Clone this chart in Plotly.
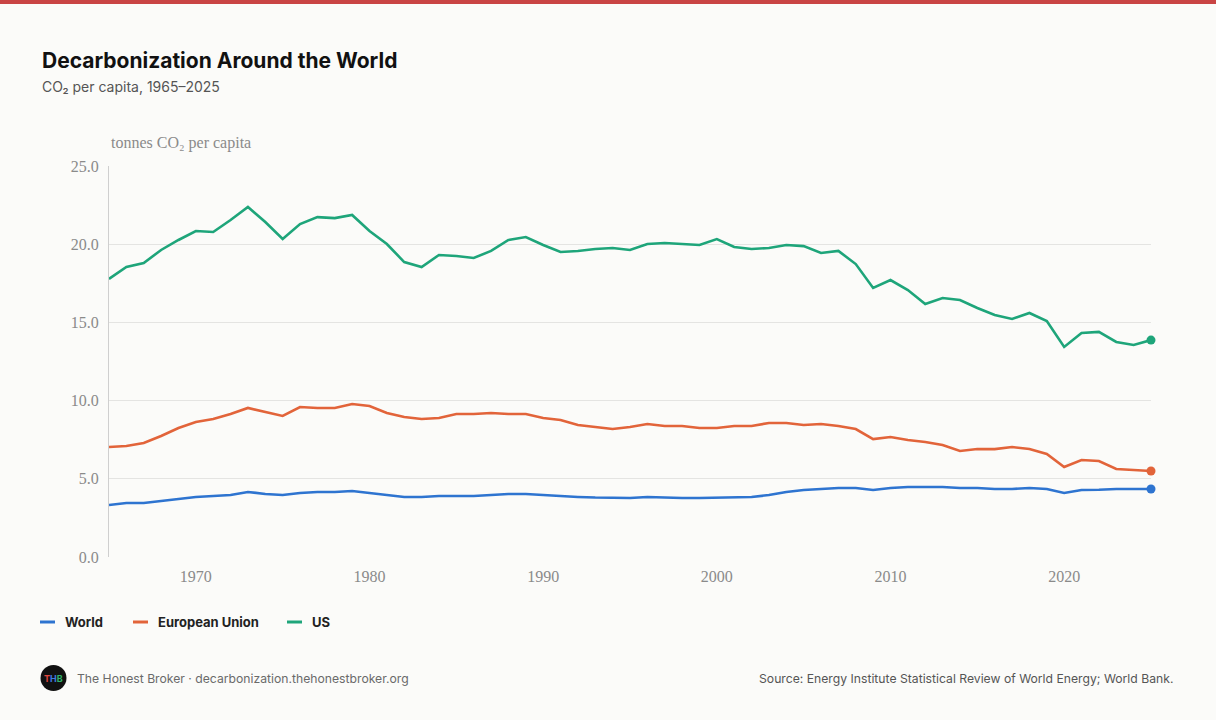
import plotly.graph_objects as go

years = list(range(1965, 2026))

world = [3.32, 3.45, 3.45, 3.58, 3.71, 3.84, 3.90, 3.96, 4.16, 4.03,
         3.96, 4.09, 4.16, 4.16, 4.22, 4.09, 3.96, 3.84, 3.84, 3.90,
         3.90, 3.90, 3.96, 4.03, 4.03, 3.96, 3.90, 3.84, 3.80, 3.77,
         3.77, 3.84, 3.80, 3.77, 3.77, 3.80, 3.80, 3.84, 3.96, 4.16,
         4.28, 4.35, 4.41, 4.41, 4.28, 4.41, 4.48, 4.48, 4.48, 4.41,
         4.41, 4.35, 4.35, 4.41, 4.35, 4.09, 4.28, 4.30, 4.35, 4.35,
         4.35]

eu = [7.03, 7.10, 7.29, 7.74, 8.25, 8.63, 8.82, 9.14, 9.53, 9.27,
      9.02, 9.59, 9.53, 9.53, 9.78, 9.65, 9.21, 8.95, 8.82, 8.89,
      9.14, 9.14, 9.21, 9.14, 9.14, 8.89, 8.76, 8.44, 8.31, 8.18,
      8.31, 8.50, 8.38, 8.38, 8.25, 8.25, 8.38, 8.38, 8.57, 8.57,
      8.44, 8.50, 8.38, 8.18, 7.54, 7.67, 7.48, 7.35, 7.16, 6.78,
      6.90, 6.90, 7.03, 6.90, 6.59, 5.75, 6.20, 6.14, 5.63, 5.56,
      5.50]

us = [17.78, 18.54, 18.80, 19.63, 20.27, 20.84, 20.78, 21.55, 22.38, 21.42,
      20.33, 21.29, 21.73, 21.67, 21.87, 20.84, 20.01, 18.86, 18.54, 19.31,
      19.25, 19.12, 19.57, 20.27, 20.46, 19.95, 19.50, 19.57, 19.69, 19.76,
      19.63, 20.01, 20.08, 20.01, 19.95, 20.33, 19.82, 19.69, 19.76, 19.95,
      19.88, 19.44, 19.57, 18.73, 17.20, 17.71, 17.07, 16.18, 16.56, 16.43,
      15.92, 15.47, 15.22, 15.60, 15.09, 13.43, 14.32, 14.39, 13.75, 13.56,
      13.87]

series_names = ["World", "European Union", "US"]
series_values = [world, eu, us]
series_colors = ["#2e74d0", "#e2643a", "#1ea57a"]

y_ticks = [0, 5, 10, 15, 20, 25]
x_ticks = [1970, 1980, 1990, 2000, 2010, 2020]

title_text = "Decarbonization Around the World"
subtitle_text = "CO₂ per capita, 1965–2025"
y_title_text = "tonnes CO₂ per capita"
footer_left = "The Honest Broker · decarbonization.thehonestbroker.org"
footer_right = "Source: Energy Institute Statistical Review of World Energy; World Bank."

W, H = 1216, 720
L, R, T, B = 109, 1151, 166, 557  # plot area in pixels
BG = "#fbfbf9"


def px(x):
    return (x - L) / (R - L)


def py(y):
    return (B - y) / (B - T)


fig = go.Figure()
for name, vals, col in zip(series_names, series_values, series_colors):
    fig.add_trace(go.Scatter(x=years, y=vals, mode="lines", name=name,
                             line=dict(color=col, width=2.6), showlegend=False,
                             hoverinfo="skip"))
    fig.add_trace(go.Scatter(x=[years[-1]], y=[vals[-1]], mode="markers",
                             marker=dict(color=col, size=9), showlegend=False,
                             hoverinfo="skip", cliponaxis=False))

serif = "Liberation Serif, Times New Roman, serif"
sans = "Inter, Noto Sans, sans-serif"

fig.update_xaxes(range=[1965, 2025], tickvals=x_ticks, showgrid=False,
                 showline=False, zeroline=False, ticks="", ticklabelstandoff=8,
                 tickfont=dict(family=serif, size=16, color="#8a8a8a"))
fig.update_yaxes(range=[0, 25], tickvals=y_ticks, tickformat=".1f",
                 showgrid=True, gridcolor="#e4e4e2", gridwidth=1,
                 showline=True, linecolor="#cfcfcf", linewidth=1,
                 zeroline=False, ticks="", ticklabelstandoff=6,
                 tickfont=dict(family=serif, size=16, color="#8a8a8a"))

shapes = [
    dict(type="rect", xref="paper", yref="paper", x0=px(-5), x1=px(W + 5),
         y0=py(-2), y1=py(4), fillcolor="#c94444", line=dict(width=0), layer="above"),
    dict(type="circle", xref="paper", yref="paper", x0=px(40.5), x1=px(66.5),
         y0=py(665), y1=py(691), fillcolor="#111111", line=dict(width=0)),
]

annotations = [
    dict(text="<b>" + title_text + "</b>", xref="paper", yref="paper",
         x=px(40), y=py(60), xanchor="left", yanchor="middle", showarrow=False,
         font=dict(family=sans, size=21, color="#111111")),
    dict(text=subtitle_text, xref="paper", yref="paper",
         x=px(40), y=py(87), xanchor="left", yanchor="middle", showarrow=False,
         font=dict(family=sans, size=14, color="#555555")),
    dict(text=y_title_text, xref="paper", yref="paper",
         x=px(109), y=py(143), xanchor="left", yanchor="middle", showarrow=False,
         font=dict(family=serif, size=16, color="#8a8a8a")),
    dict(text=footer_left, xref="paper", yref="paper",
         x=px(75), y=py(678), xanchor="left", yanchor="middle", showarrow=False,
         font=dict(family=sans, size=12.2, color="#6a6a6a")),
    dict(text=footer_right, xref="paper", yref="paper",
         x=px(1175), y=py(678), xanchor="right", yanchor="middle", showarrow=False,
         font=dict(family=sans, size=12.2, color="#555555")),
    dict(text="<b><span style='color:#e0473f'>T</span><span style='color:#3f7be0'>H</span>"
              "<span style='color:#2fb36b'>B</span></b>", xref="paper", yref="paper",
         x=px(53.5), y=py(678.5), xanchor="center", yanchor="middle", showarrow=False,
         font=dict(family=sans, size=9, color="#ffffff")),
]

# legend (manual)
legend_x = [40, 133, 287]
for name, col, lx in zip(series_names, series_colors, legend_x):
    shapes.append(dict(type="line", xref="paper", yref="paper",
                       x0=px(lx), x1=px(lx + 15), y0=py(622), y1=py(622),
                       line=dict(color=col, width=3)))
    annotations.append(dict(text="<b>" + name + "</b>", xref="paper", yref="paper",
                            x=px(lx + 23), y=py(622), xanchor="left", yanchor="middle",
                            showarrow=False,
                            font=dict(family=sans, size=13, color="#222222")))

fig.update_layout(
    width=W, height=H,
    margin=dict(l=L, r=W - R, t=T, b=H - B, pad=0),
    paper_bgcolor=BG, plot_bgcolor=BG,
    shapes=shapes, annotations=annotations,
    showlegend=False,
)

fig.write_html(
    "out.html",
    config={"displayModeBar": False},
    post_script="document.body.style.margin='0';document.body.style.overflow='hidden';"
                "document.body.style.background='" + BG + "';",
)
